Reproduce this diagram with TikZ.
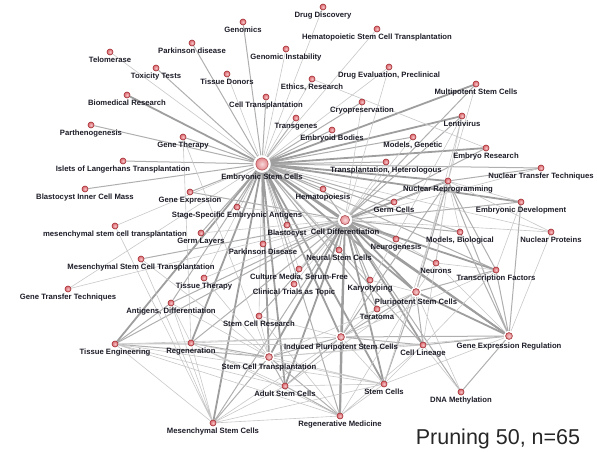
\documentclass[tikz,border=0pt]{standalone}
\usepackage{fontspec}
\setmainfont{Liberation Sans}
\usetikzlibrary{backgrounds}

\definecolor{dotfill}{RGB}{222,104,110}
\definecolor{dotline}{RGB}{160,44,50}
\definecolor{labeltext}{RGB}{28,28,40}
\definecolor{edgelight}{RGB}{200,200,200}
\definecolor{edgemid}{RGB}{175,175,175}
\definecolor{edgedark}{RGB}{158,158,158}

\begin{document}
\begin{tikzpicture}[
  x=1pt,
  y=-1pt,
  font=\fontsize{7.7}{9}\selectfont\bfseries,
  every label/.style={text=labeltext,text height=6pt,text depth=1.5pt,inner sep=1pt},
  term/.style={circle,inner sep=0pt,minimum size=6pt,draw=dotline,line width=0.6pt,
    inner color=dotfill!40!white,outer color=dotfill,label distance=0.7pt},
  midterm/.style={circle,inner sep=0pt,minimum size=10pt,fill=white,label distance=-1pt,
    path picture={\draw[dotline,line width=0.6pt,inner color=dotfill!35!white,outer color=dotfill]
      (path picture bounding box.center) circle (3.4pt);}},
  hub/.style={circle,inner sep=0pt,minimum size=#1,fill=white,label distance=0pt,
    path picture={\draw[dotline!80,line width=0.6pt,inner color=dotfill!25!white,outer color=dotfill]
      (path picture bounding box.center) circle (#1/2-2.4pt);}},
  lightedge/.style={draw=edgelight,line width=0.6pt},
  midedge/.style={draw=edgemid,line width=1pt},
  heavyedge/.style={draw=edgedark,line width=1.8pt}
]
\useasboundingbox (0,0) rectangle (597,452);

% Terms, top
\node[term,label=below:Drug Discovery] (drugdisc) at (323,7) {};
\node[term,label=below:Hematopoietic Stem Cell Transplantation] (hsct) at (377,29) {};
\node[term,label=below:Genomics] (genomics) at (243,22) {};
\node[term,label=below:Parkinson disease] (parkd) at (192,43) {};
\node[term,label=below:Genomic Instability] (genominst) at (286,49) {};
\node[term,label=below:Telomerase] (telomerase) at (110,52) {};
\node[term,label=below:Toxicity Tests] (toxtest) at (156,68) {};
\node[term,label=below:{Drug Evaluation, Preclinical}] (drugeval) at (389,67) {};
\node[term,label=below:Tissue Donors] (tissuedon) at (227,74) {};
\node[term,label=below:{Ethics, Research}] (ethics) at (312,79) {};
\node[term,label=below:Multipotent Stem Cells] (multipot) at (476,84) {};
\node[term,label=below:Biomedical Research] (biomed) at (127,95) {};
\node[term,label=below:Cell Transplantation] (celltrans) at (266,97) {};
\node[term,label=below:Cryopreservation] (cryo) at (362,102) {};
\node[term,label=below:Lentivirus] (lenti) at (462,116) {};
\node[term,label=below:Transgenes] (transgenes) at (296,118) {};
\node[term,label=below:Parthenogenesis] (parthen) at (91,125) {};
\node[term,label=below:Embryoid Bodies] (embbodies) at (332,130) {};
\node[term,label=below:{Models, Genetic}] (modgen) at (413,137) {};
\node[term,label=below:Gene Therapy] (genether) at (183,137) {};
\node[term,label=below:Embryo Research] (embres) at (486,148) {};

% Hubs
\node[hub=17pt,label=below:Embryonic Stem Cells] (esc) at (262,164) {};
\node[hub=14pt,label=below:Cell Differentiation] (celldiff) at (345,220) {};

% Terms, middle
\node[term,label=below:Islets of Langerhans Transplantation] (islets) at (123,161) {};
\node[term,label=below:{Transplantation, Heterologous}] (transhet) at (386,162) {};
\node[term,label=below:Nuclear Transfer Techniques] (ntt) at (541,168) {};
\node[term,label=below:Nuclear Reprogramming] (nucrep) at (448,181) {};
\node[term,label=below:Hematopoiesis] (hemato) at (323,189) {};
\node[term,label=below:Blastocyst Inner Cell Mass] (blasticm) at (85,189) {};
\node[term,label=below:Gene Expression] (geneexp) at (190,192) {};
\node[term,label=below:Germ Cells] (germcells) at (394,202) {};
\node[term,label=below:Embryonic Development] (embdev) at (521,202) {};
\node[term,label=below:Stage-Specific Embryonic Antigens] (ssea) at (237,207) {};
\node[term,label=below:Blastocyst] (blastocyst) at (287,225) {};
\node[term,label=below:mesenchymal stem cell transplantation] (msctlow) at (115,226) {};
\node[term,label=below:{Models, Biological}] (modbio) at (460,232) {};
\node[term,label=below:Nuclear Proteins] (nucprot) at (551,232) {};
\node[term,label=below:Germ Layers] (germlay) at (201,233) {};
\node[term,label=below:Neurogenesis] (neurogen) at (396,239) {};
\node[term,label=below:Parkinson Disease] (parkD) at (263,244) {};
\node[term,label=below:Neural Stem Cells] (neuralsc) at (339,250) {};
\node[term,label=below:Mesenchymal Stem Cell Transplantation] (msctup) at (141,259) {};
\node[term,label=below:Neurons] (neurons) at (436,263) {};
\node[term,label=below:{Culture Media, Serum-Free}] (culture) at (299,269) {};
\node[term,label=below:Transcription Factors] (transfac) at (496,270) {};
\node[term,label=below:Tissue Therapy] (tissther) at (204,278) {};
\node[term,label=below:Karyotyping] (karyo) at (370,280) {};
\node[term,label=below:Clinical Trials as Topic] (clinical) at (294,284) {};
\node[term,label=below:Gene Transfer Techniques] (genetransfer) at (68,289) {};
\node[midterm,label=below:Pluripotent Stem Cells] (pluri) at (416,292) {};
\node[term,label=below:{Antigens, Differentiation}] (antigens) at (171,303) {};
\node[term,label=below:Teratoma] (teratoma) at (377,309) {};

% Terms, bottom
\node[term,label=below:Stem Cell Research] (scresearch) at (259,316) {};
\node[midterm,label=below:Induced Pluripotent Stem Cells] (ipsc) at (341,337) {};
\node[midterm,label=below:Gene Expression Regulation] (ger) at (509,336) {};
\node[term,label=below:Regeneration] (regeneration) at (191,343) {};
\node[term,label=below:Tissue Engineering] (tissueeng) at (115,344) {};
\node[term,label=below:Cell Lineage] (celllin) at (423,345) {};
\node[midterm,label=below:Stem Cell Transplantation] (sct) at (269,357) {};
\node[term,label=below:Stem Cells] (stemcells) at (384,384) {};
\node[term,label=below:Adult Stem Cells] (adultsc) at (285,386) {};
\node[term,label=below:DNA Methylation] (dnameth) at (461,392) {};
\node[term,label=below:Regenerative Medicine] (regmed) at (340,416) {};
\node[term,label=below:Mesenchymal Stem Cells] (mscs) at (213,423) {};

\node[font=\fontsize{21.5}{24}\selectfont,text=black!85] (caption) at (498,439) {Pruning 50, n=65};

\begin{pgfonlayer}{background}
% Embryonic Stem Cells
\draw[lightedge] (esc) -- (drugdisc) (esc) -- (hsct) (esc) -- (telomerase) (esc) -- (genominst)
  (esc) -- (drugeval) (esc) -- (tissuedon) (esc) -- (ethics) (esc) -- (msctlow) (esc) -- (parkD)
  (esc) -- (culture) (esc) -- (karyo) (esc) -- (clinical) (esc) -- (scresearch) (esc) -- (neurons)
  (esc) -- (neurogen) (esc) -- (tissther) (esc) -- (nucprot) (esc) -- (genetransfer);
\draw[midedge] (esc) -- (genomics) (esc) -- (parkd) (esc) -- (toxtest) (esc) -- (celltrans)
  (esc) -- (transgenes) (esc) -- (embbodies) (esc) -- (parthen) (esc) -- (genether) (esc) -- (islets)
  (esc) -- (blasticm) (esc) -- (geneexp) (esc) -- (ssea) (esc) -- (germlay) (esc) -- (blastocyst)
  (esc) -- (hemato) (esc) -- (germcells) (esc) -- (transhet) (esc) -- (modgen) (esc) -- (modbio)
  (esc) -- (neuralsc) (esc) -- (antigens) (esc) -- (teratoma) (esc) -- (transfac) (esc) -- (celllin)
  (esc) -- (regmed) (esc) -- (cryo) (esc) -- (ntt);
\draw[heavyedge] (esc) -- (multipot) (esc) -- (biomed) (esc) -- (embres) (esc) -- (nucrep)
  (esc) -- (celldiff) (esc) -- (pluri) (esc) -- (ipsc) (esc) -- (sct) (esc) -- (lenti)
  (esc) -- (embdev) (esc) -- (tissueeng) (esc) -- (mscs) (esc) -- (adultsc) (esc) -- (stemcells)
  (esc) -- (regeneration) (esc) -- (ger);

% Cell Differentiation
\draw[lightedge] (celldiff) -- (nucprot) (celldiff) -- (ntt) (celldiff) -- (tissther)
  (celldiff) -- (clinical) (celldiff) -- (culture) (celldiff) -- (modgen) (celldiff) -- (transhet)
  (celldiff) -- (cryo) (celldiff) -- (drugeval) (celldiff) -- (genetransfer) (celldiff) -- (germlay)
  (celldiff) -- (ssea) (celldiff) -- (parkD);
\draw[midedge] (celldiff) -- (germcells) (celldiff) -- (embdev) (celldiff) -- (modbio)
  (celldiff) -- (neurogen) (celldiff) -- (neuralsc) (celldiff) -- (neurons) (celldiff) -- (teratoma)
  (celldiff) -- (tissueeng) (celldiff) -- (regeneration) (celldiff) -- (mscs) (celldiff) -- (antigens)
  (celldiff) -- (hemato) (celldiff) -- (geneexp) (celldiff) -- (multipot) (celldiff) -- (lenti)
  (celldiff) -- (embres) (celldiff) -- (karyo) (celldiff) -- (dnameth) (celldiff) -- (scresearch)
  (celldiff) -- (msctup);
\draw[heavyedge] (celldiff) -- (ger) (celldiff) -- (transfac) (celldiff) -- (celllin)
  (celldiff) -- (pluri) (celldiff) -- (ipsc) (celldiff) -- (stemcells) (celldiff) -- (adultsc)
  (celldiff) -- (sct) (celldiff) -- (nucrep) (celldiff) -- (regmed);

% Gene Expression Regulation and pluripotency
\draw[heavyedge] (ger) -- (pluri) (ipsc) -- (regmed);
\draw[midedge] (ger) -- (transfac) (ger) -- (nucrep) (ger) -- (ipsc) (ger) -- (celllin)
  (ger) -- (dnameth) (ger) -- (embdev) (ger) -- (modbio)
  (pluri) -- (nucrep) (pluri) -- (ipsc) (pluri) -- (celllin) (pluri) -- (transfac) (pluri) -- (stemcells)
  (ipsc) -- (nucrep) (ipsc) -- (sct) (ipsc) -- (adultsc) (ipsc) -- (celllin)
  (nucrep) -- (ntt) (nucrep) -- (transfac) (adultsc) -- (regmed);
\draw[lightedge] (ger) -- (neurons) (ger) -- (stemcells) (ger) -- (sct) (ger) -- (nucprot)
  (pluri) -- (neurons) (pluri) -- (teratoma) (pluri) -- (sct) (pluri) -- (regmed) (pluri) -- (adultsc)
  (pluri) -- (karyo) (ipsc) -- (stemcells) (ipsc) -- (tissueeng) (ipsc) -- (regeneration)
  (ipsc) -- (mscs) (ipsc) -- (transfac) (ipsc) -- (teratoma) (ipsc) -- (scresearch) (ipsc) -- (lenti)
  (nucrep) -- (nucprot) (nucrep) -- (embdev) (nucrep) -- (modbio) (nucrep) -- (neurons)
  (nucrep) -- (celllin) (nucrep) -- (lenti) (nucrep) -- (multipot) (nucrep) -- (germcells)
  (nucrep) -- (stemcells) (embdev) -- (transfac) (transfac) -- (neurons) (transfac) -- (celllin)
  (dnameth) -- (celllin) (dnameth) -- (pluri) (lenti) -- (pluri) (ethics) -- (embres);

% Transplantation and tissue repair
\draw[midedge] (sct) -- (tissueeng) (sct) -- (regeneration) (sct) -- (mscs) (sct) -- (adultsc)
  (sct) -- (regmed) (tissueeng) -- (antigens);
\draw[lightedge] (sct) -- (stemcells) (sct) -- (scresearch) (sct) -- (antigens) (sct) -- (msctup)
  (sct) -- (genether) (tissueeng) -- (regeneration) (tissueeng) -- (adultsc) (tissueeng) -- (mscs)
  (tissueeng) -- (regmed) (tissueeng) -- (stemcells) (tissueeng) -- (celllin)
  (regeneration) -- (adultsc) (regeneration) -- (mscs) (regeneration) -- (regmed)
  (regeneration) -- (stemcells) (mscs) -- (adultsc) (mscs) -- (regmed) (mscs) -- (stemcells)
  (mscs) -- (msctlow) (mscs) -- (msctup) (mscs) -- (antigens) (stemcells) -- (adultsc)
  (stemcells) -- (regmed) (genether) -- (regeneration) (antigens) -- (regeneration)
  (tissther) -- (sct) (scresearch) -- (regmed) (celllin) -- (stemcells) (celllin) -- (regmed)
  (celllin) -- (sct);
\end{pgfonlayer}

\end{tikzpicture}
\end{document}
